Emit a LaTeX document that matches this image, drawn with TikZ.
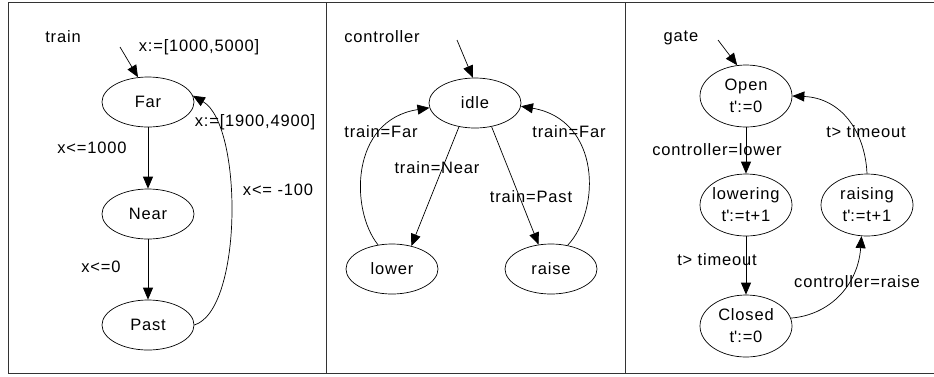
\documentclass[tikz,border=0pt]{standalone}
\usepackage{fontspec}
\setmainfont[LetterSpace=5]{Liberation Sans}
\usetikzlibrary{shapes,arrows.meta}
\tikzstyle{state} = [draw, ellipse, inner sep=-4pt, minimum width=92pt, minimum height=50pt]
\tikzstyle{bigstate} = [state, minimum height=62pt, align=center]
\tikzstyle{line} = [draw, line width=0.7pt, -{Triangle[length=12pt,width=10pt]}]
\tikzstyle{frame} = [draw, line width=0.9pt, black!80]

\begin{document}
\begin{tikzpicture}[x=10pt,y=-10pt,line width=0.7pt,font=\fontsize{16.5}{22}\selectfont]
\useasboundingbox (0,0) rectangle (93.4,37.6);
\draw[frame] (94,0.2) -- (0.8,0.2) -- (0.8,37.35) -- (94,37.35);
\draw[frame] (32.6,0.2) -- (32.6,37.35);
\draw[frame] (62.5,0.2) -- (62.5,37.35);
% train
\node (train) at (6.3,3.7) {train};
\node (trainset) at (19.9,4.7) {x:=[1000,5000]};
\coordinate (traininit) at (12.0,4.7);
\node[state] (far) at (14.8,10.2) {Far};
\node[state] (near) at (14.8,21.4) {Near};
\node[state] (past) at (14.8,32.5) {Past};
\path[line] (traininit) -- (far.112);
\path[line] (far) -- (near);
\path[line] (near) -- (past);
\path[line] (past.east) .. controls (24.3,31) and (24.3,12.5) .. (far.8);
\node at (9.2,14.8) {x<=1000};
\node at (10.1,26.7) {x<=0};
\node at (25.5,12.2) {x:=[1900,4900]};
\node at (27.8,19.0) {x<= -100};
%
% controller
\node (ctrl) at (38.2,3.7) {controller};
\coordinate (ctrlinit) at (45.7,4.0);
\node[state] (idle) at (47.5,10.3) {idle};
\node[state] (lower) at (39.2,26.9) {lower};
\node[state] (raise) at (55.1,26.9) {raise};
\path[line] (ctrlinit) -- (idle.95);
\path[line] (idle.-124) -- (lower.50);
\path[line] (idle.-55) -- (raise.117);
\path[line] (lower.120) .. controls (35.0,21) and (35.0,12) .. (idle.186);
\path[line] (raise.55) .. controls (60.1,21) and (60.1,12) .. (idle.-4);
\node at (38.1,13.2) {train=Far};
\node at (56.9,13.2) {train=Far};
\node at (43.7,16.8) {train=Near};
\node at (53.1,19.7) {train=Past};
%
% gate
\node (gate) at (68.1,3.8) {gate};
\coordinate (gateinit) at (71.8,4.0);
\node[bigstate] (open) at (74.6,9.6) {Open\\t\textquotesingle:=0};
\node[bigstate] (lowering) at (74.6,20.5) {lowering\\t\textquotesingle:=t+1};
\node[bigstate] (closed) at (74.6,32.6) {Closed\\t\textquotesingle:=0};
\node[bigstate] (raising) at (86.7,20.5) {raising\\t\textquotesingle:=t+1};
\path[line] (gateinit) -- (open.106);
\path[line] (open) -- (lowering);
\path[line] (lowering) -- (closed);
\path[line] (closed.10) .. controls (83,31.5) and (85.8,28.5) .. (raising.-100);
\path[line] (raising.north) .. controls (86.5,13) and (84,9.8) .. (open.east);
\node at (71.7,15.0) {controller=lower};
\node at (71.7,26.0) {t> timeout};
\node at (86.6,13.2) {t> timeout};
\node at (85.7,28.2) {controller=raise};
\end{tikzpicture}
\end{document}
